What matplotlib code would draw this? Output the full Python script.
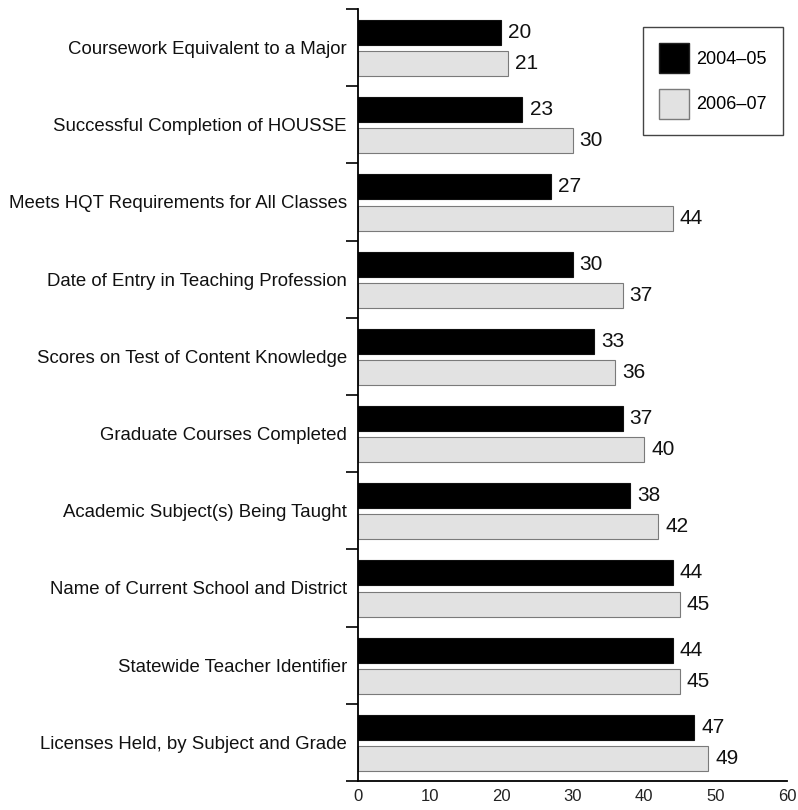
import matplotlib.pyplot as plt
from matplotlib.patches import Patch
import numpy as np

plt.rcParams['font.family'] = ['Liberation Sans', 'DejaVu Sans']

categories = [
    "Coursework Equivalent to a Major",
    "Successful Completion of HOUSSE",
    "Meets HQT Requirements for All Classes",
    "Date of Entry in Teaching Profession",
    "Scores on Test of Content Knowledge",
    "Graduate Courses Completed",
    "Academic Subject(s) Being Taught",
    "Name of Current School and District",
    "Statewide Teacher Identifier",
    "Licenses Held, by Subject and Grade",
]
vals_0405 = [20, 23, 27, 30, 33, 37, 38, 44, 44, 47]
vals_0607 = [21, 30, 44, 37, 36, 40, 42, 45, 45, 49]
series_names = ["2004\u201305", "2006\u201307"]
x_ticks = [0, 10, 20, 30, 40, 50, 60]

fig = plt.figure(figsize=(7.98, 8.10), dpi=100)
ax = fig.add_axes([358/798, 29/810, 429/798, 772/810])

y = np.arange(len(categories))
h = 0.325
dark_col = "#000000"
light_col = "#e2e2e2"

ax.barh(y - 0.195, vals_0405, height=h, color=dark_col, edgecolor="#111111", linewidth=0.8)
ax.barh(y + 0.208, vals_0607, height=h, color=light_col, edgecolor="#7a7a7a", linewidth=0.8)

for i in range(len(categories)):
    ax.text(vals_0405[i] + 1.0, y[i] - 0.195, str(vals_0405[i]),
            va="center", ha="left", fontsize=15, color="#111111")
    ax.text(vals_0607[i] + 1.0, y[i] + 0.208, str(vals_0607[i]),
            va="center", ha="left", fontsize=15, color="#111111")

ax.set_xlim(0, 60)
ax.set_ylim(len(categories) - 0.5, -0.5)
ax.set_xticks(x_ticks)
ax.set_xticklabels([str(t) for t in x_ticks], fontsize=12, color="#222222")
ax.tick_params(axis="x", length=0, pad=6)

ax.set_yticks(y)
ax.set_yticklabels(categories, fontsize=13.4, color="#111111")
ax.set_yticks(np.arange(len(categories) + 1) - 0.5, minor=True)
ax.tick_params(axis="y", which="major", length=0, pad=8)
ax.tick_params(axis="y", which="minor", length=9, width=1.2, direction="out")

ax.spines["top"].set_visible(False)
ax.spines["right"].set_visible(False)
ax.spines["left"].set_linewidth(1.3)
ax.spines["bottom"].set_linewidth(1.3)

handles = [Patch(facecolor=dark_col, edgecolor="#222222"),
           Patch(facecolor=light_col, edgecolor="#7a7a7a")]
leg = ax.legend(handles, series_names, loc="upper right",
                bbox_to_anchor=(783/798, 1 - 27/810), bbox_transform=fig.transFigure,
                borderaxespad=0, fontsize=13, handlelength=1.67, handleheight=2.19,
                labelspacing=0.85, borderpad=0.9, handletextpad=0.4,
                fancybox=False, framealpha=1)
leg.get_frame().set_edgecolor("#444444")
leg.get_frame().set_linewidth(1.0)

plt.savefig("out.png", dpi=100)
